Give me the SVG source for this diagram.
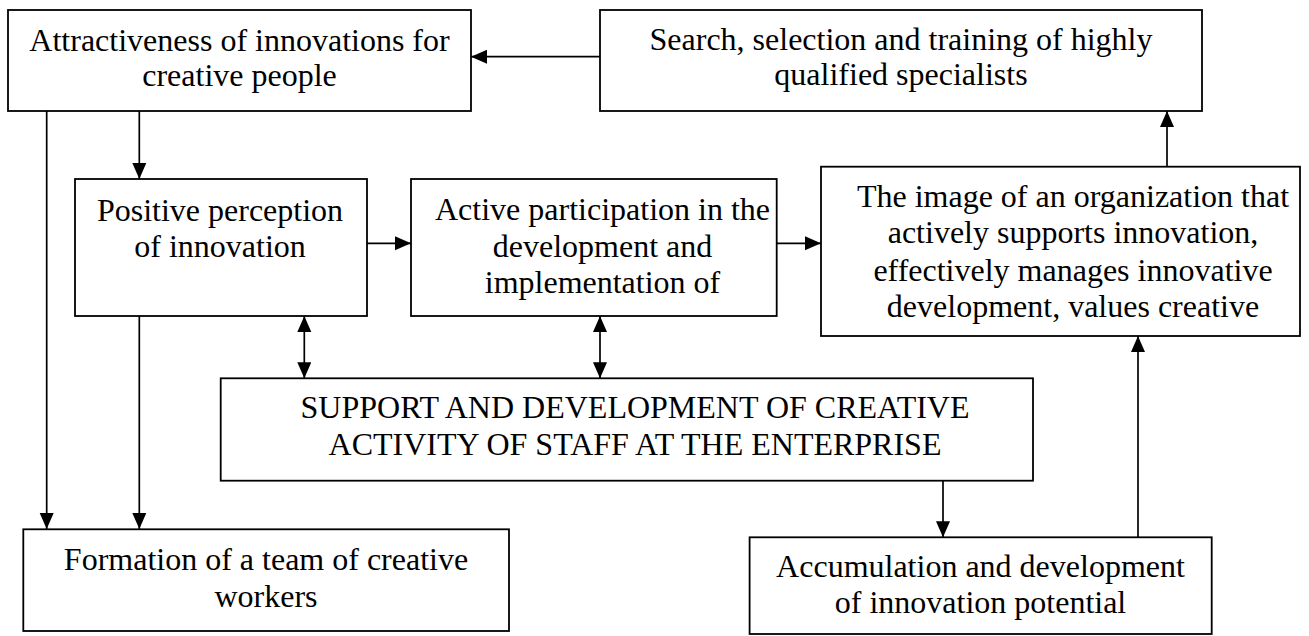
<svg xmlns="http://www.w3.org/2000/svg" width="1309" height="636" viewBox="0 0 1309 636">
<style>
.box{fill:#fff;stroke:#000;stroke-width:1.8}
text{font-family:'Liberation Serif','Times New Roman',Tinos,'DejaVu Serif',serif;font-size:32px;fill:#000;text-anchor:middle}
.c{fill:none;stroke:#000;stroke-width:1.7}
</style>
<defs>
<marker id="ah" markerUnits="userSpaceOnUse" markerWidth="17" markerHeight="15" refX="16" refY="7" orient="auto-start-reverse">
<path d="M0,0 L16,7 L0,14 z" fill="#000"/>
</marker>
</defs>
<rect width="1309" height="636" fill="#fff"/>
<g id="connectors">
<line class="c" x1="600" y1="56.7" x2="471" y2="56.7" marker-end="url(#ah)"/>
<line class="c" x1="139.3" y1="111" x2="139.3" y2="179" marker-end="url(#ah)"/>
<line class="c" x1="46.7" y1="111" x2="46.7" y2="529" marker-end="url(#ah)"/>
<line class="c" x1="139.3" y1="316" x2="139.3" y2="529" marker-end="url(#ah)"/>
<line class="c" x1="367" y1="243.3" x2="411" y2="243.3" marker-end="url(#ah)"/>
<line class="c" x1="776.7" y1="243.3" x2="821" y2="243.3" marker-end="url(#ah)"/>
<line class="c" x1="1167" y1="166.7" x2="1167" y2="111" marker-end="url(#ah)"/>
<line class="c" x1="304.3" y1="316" x2="304.3" y2="378.3" marker-start="url(#ah)" marker-end="url(#ah)"/>
<line class="c" x1="600" y1="316" x2="600" y2="378.3" marker-start="url(#ah)" marker-end="url(#ah)"/>
<line class="c" x1="943" y1="480.7" x2="943" y2="537.3" marker-end="url(#ah)"/>
<line class="c" x1="1138" y1="537.3" x2="1138" y2="336" marker-end="url(#ah)"/>
</g>
<g id="attractiveness">
<rect class="box" x="8" y="10" width="463" height="101"/>
<text x="239.5" y="51">Attractiveness of innovations for</text>
<text x="239.5" y="86">creative people</text>
</g>
<g id="search">
<rect class="box" x="600" y="10" width="602" height="101"/>
<text x="901" y="50">Search, selection and training of highly</text>
<text x="901" y="85">qualified specialists</text>
</g>
<g id="positive">
<rect class="box" x="75" y="179" width="292" height="137"/>
<text x="220" y="220.7">Positive perception</text>
<text x="220" y="256.7">of innovation</text>
</g>
<g id="active">
<rect class="box" x="411" y="179" width="365.7" height="137"/>
<text x="602.5" y="220">Active participation in the</text>
<text x="602.5" y="256.7">development and</text>
<text x="602.5" y="293.3">implementation of</text>
</g>
<g id="image">
<rect class="box" x="821" y="166.7" width="479" height="169.3"/>
<text x="1073" y="206.7">The image of an organization that</text>
<text x="1073" y="243.3">actively supports innovation,</text>
<text x="1073" y="280.7">effectively manages innovative</text>
<text x="1073" y="317.3">development, values creative</text>
</g>
<g id="support">
<rect class="box" x="220.7" y="378.3" width="812.3" height="102.4"/>
<text x="635" y="418.3">SUPPORT AND DEVELOPMENT OF CREATIVE</text>
<text x="635" y="455">ACTIVITY OF STAFF AT THE ENTERPRISE</text>
</g>
<g id="formation">
<rect class="box" x="23.3" y="529.3" width="485.7" height="101.7"/>
<text x="266" y="570">Formation of a team of creative</text>
<text x="266" y="606.7">workers</text>
</g>
<g id="accumulation">
<rect class="box" x="749.6" y="537.3" width="462.1" height="96.7"/>
<text x="980.5" y="576.7">Accumulation and development</text>
<text x="980.5" y="613.3">of innovation potential</text>
</g>
</svg>
